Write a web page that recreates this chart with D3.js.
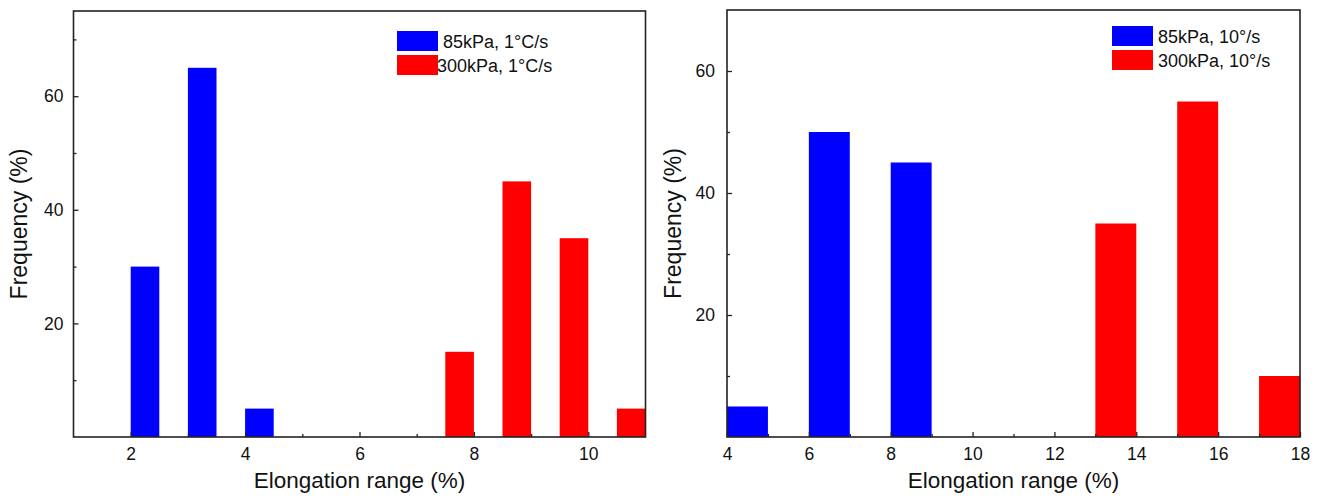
<!DOCTYPE html>
<html>
<head>
<meta charset="utf-8">
<script src="https://cdn.jsdelivr.net/npm/d3@7"></script>
<style>
  body { margin: 0; background: #fff; }
  text { font-family: "Liberation Sans", Arial, sans-serif; fill: #111; }
</style>
</head>
<body>
<script>
// left panel (1 °C/s)
const leftBlueStart = [2, 3, 4];
const leftBlueFreq = [30, 65, 5];
const leftRedStart = [7.5, 8.5, 9.5, 10.5];
const leftRedFreq = [15, 45, 35, 5];
const leftBinWidth = 0.5;
const leftXTicks = [2, 4, 6, 8, 10];
const leftXMinor = [3, 5, 7, 9];
const leftYTicks = [20, 40, 60];
const leftYMinor = [10, 30, 50, 70];
const leftLegend = ["85kPa, 1\u00B0C/s", "300kPa, 1\u00B0C/s"];

// right panel (10 °/s)
const rightBlueStart = [4, 6, 8];
const rightBlueFreq = [5, 50, 45];
const rightRedStart = [13, 15, 17];
const rightRedFreq = [35, 55, 10];
const rightBinWidth = 1;
const rightXTicks = [4, 6, 8, 10, 12, 14, 16, 18];
const rightXMinor = [5, 7, 9, 11, 13, 15, 17];
const rightYTicks = [20, 40, 60];
const rightYMinor = [10, 30, 50];
const rightLegend = ["85kPa, 10\u00B0/s", "300kPa, 10\u00B0/s"];

const svg = d3.select("body").append("svg")
    .attr("width", 1325)
    .attr("height", 499);

function drawPanel(p) {
    const x = d3.scaleLinear().domain(p.xDomain).range([p.left, p.right]);
    const y = d3.scaleLinear().domain(p.yDomain).range([p.bottom, p.top]);
    const g = svg.append("g");

    const bars = [];
    p.blueStart.forEach((s, i) => bars.push({ s: s, v: p.blueFreq[i], c: "#0000ff" }));
    p.redStart.forEach((s, i) => bars.push({ s: s, v: p.redFreq[i], c: "#ff0000" }));

    g.selectAll("rect.bar")
        .data(bars)
        .enter().append("rect")
        .attr("class", "bar")
        .attr("x", d => x(d.s))
        .attr("y", d => y(d.v))
        .attr("width", d => x(d.s + p.binWidth) - x(d.s))
        .attr("height", d => y(0) - y(d.v))
        .attr("fill", d => d.c);

    // x axis, ticks pointing inward
    g.append("g")
        .attr("transform", "translate(0," + p.bottom + ")")
        .call(d3.axisBottom(x).tickValues(p.xTicks).tickSize(-5).tickPadding(11));
    g.append("g")
        .attr("transform", "translate(0," + p.bottom + ")")
        .call(d3.axisBottom(x).tickValues(p.xMinor).tickSize(-3).tickFormat(""));

    g.append("g")
        .attr("transform", "translate(" + p.left + ",0)")
        .call(d3.axisLeft(y).tickValues(p.yTicks).tickSize(-5).tickPadding(p.yPad));
    g.append("g")
        .attr("transform", "translate(" + p.left + ",0)")
        .call(d3.axisLeft(y).tickValues(p.yMinor).tickSize(-3).tickFormat(""));

    g.selectAll(".domain").remove();
    g.selectAll(".tick line").attr("stroke", "#222").attr("stroke-width", 1.3);
    g.selectAll(".tick text")
        .style("font-family", "'Liberation Sans', Arial, sans-serif")
        .style("font-size", "17.5px")
        .attr("fill", "#111");

    g.append("rect")
        .attr("x", p.left)
        .attr("y", p.top)
        .attr("width", p.right - p.left)
        .attr("height", p.bottom - p.top)
        .attr("fill", "none")
        .attr("stroke", "#222")
        .attr("stroke-width", 1.6);

    g.append("text")
        .attr("x", (p.left + p.right) / 2)
        .attr("y", 488)
        .attr("text-anchor", "middle")
        .style("font-size", "22.5px")
        .text("Elongation range (%)");

    g.append("text")
        .attr("transform", "translate(" + p.yTitleX + "," + (p.top + p.bottom) / 2 + ") rotate(-90)")
        .attr("text-anchor", "middle")
        .style("font-size", "23px")
        .text("Frequency (%)");

    // legend
    const lg = g.append("g");
    lg.selectAll("rect")
        .data(["#0000ff", "#ff0000"])
        .enter().append("rect")
        .attr("x", p.legX)
        .attr("y", (d, i) => p.legY + i * 24)
        .attr("width", 41)
        .attr("height", 20)
        .attr("fill", d => d);
    lg.selectAll("text")
        .data(p.legend)
        .enter().append("text")
        .attr("x", (d, i) => p.legX + 41 + p.legTextDx[i])
        .attr("y", (d, i) => p.legY + 17 + i * 24)
        .style("font-size", "18px")
        .text(d => d);
}

drawPanel({
    left: 73.5, right: 645.5, top: 11, bottom: 437,
    xDomain: [1, 11], yDomain: [0, 75],
    blueStart: leftBlueStart, blueFreq: leftBlueFreq,
    redStart: leftRedStart, redFreq: leftRedFreq, binWidth: leftBinWidth,
    xTicks: leftXTicks, xMinor: leftXMinor, yTicks: leftYTicks, yMinor: leftYMinor,
    yPad: 10, yTitleX: 27,
    legend: leftLegend, legX: 397, legY: 31, legTextDx: [5, -1]
});

drawPanel({
    left: 727, right: 1300, top: 10, bottom: 437,
    xDomain: [4, 18], yDomain: [0, 70],
    blueStart: rightBlueStart, blueFreq: rightBlueFreq,
    redStart: rightRedStart, redFreq: rightRedFreq, binWidth: rightBinWidth,
    xTicks: rightXTicks, xMinor: rightXMinor, yTicks: rightYTicks, yMinor: rightYMinor,
    yPad: 12, yTitleX: 681,
    legend: rightLegend, legX: 1112, legY: 26, legTextDx: [5, 5]
});
</script>
</body>
</html>
